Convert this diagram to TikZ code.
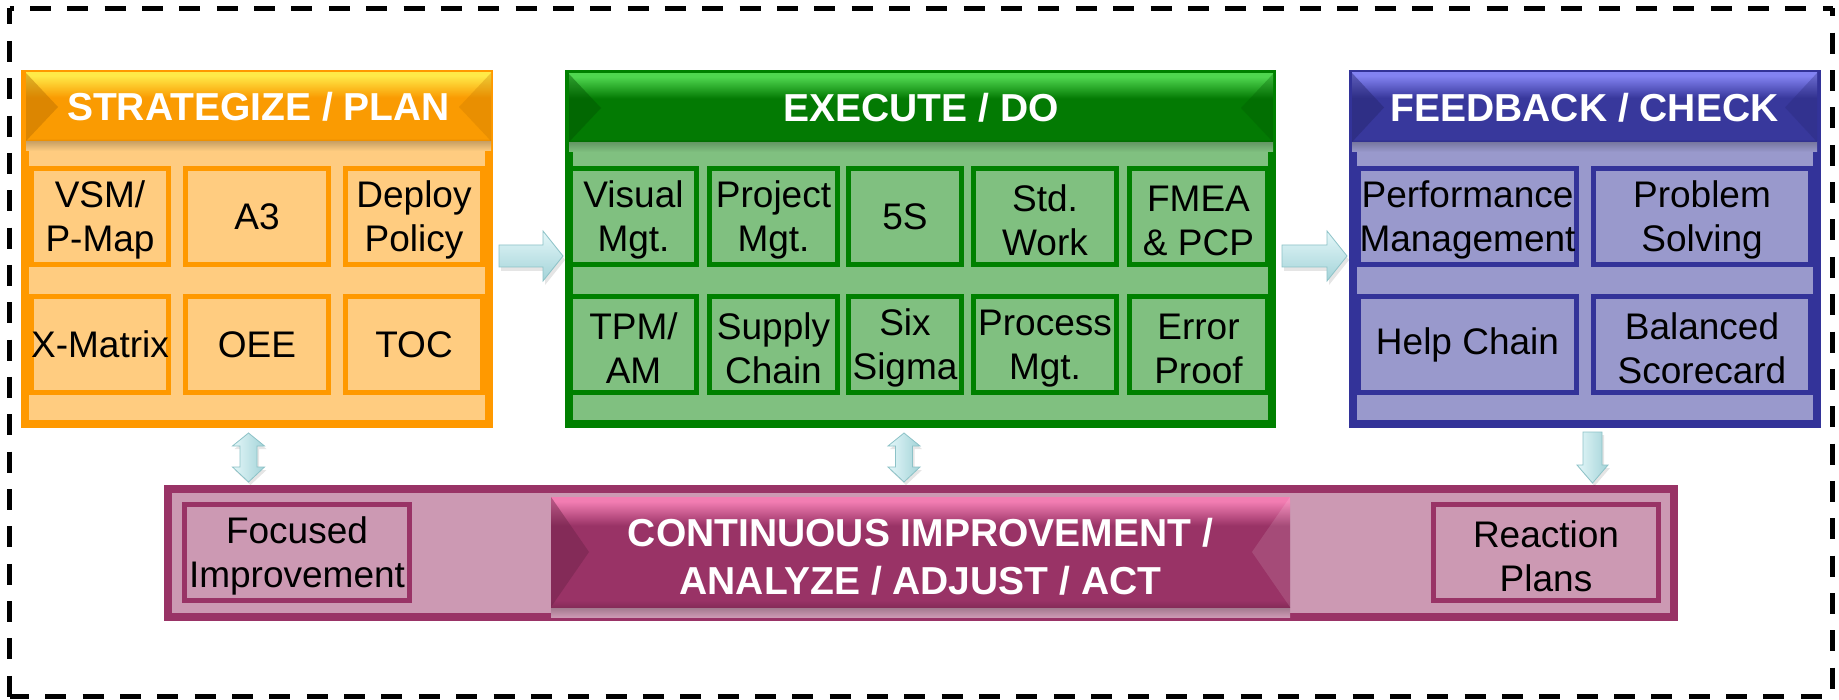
\documentclass[tikz,border=0pt]{standalone}
\usepackage{fontspec}
\setmainfont{Liberation Sans}
\usetikzlibrary{calc}
\definecolor{Ofr}{HTML}{FF9900}
\definecolor{Olt}{HTML}{FFCC80}
\definecolor{Otop}{HTML}{FFEA48}
\definecolor{Obase}{HTML}{FA9B02}
\definecolor{Odk}{HTML}{E68A00}
\definecolor{Gfr}{HTML}{008000}
\definecolor{Glt}{HTML}{80C080}
\definecolor{Gtop}{HTML}{4FD64F}
\definecolor{Gbase}{HTML}{037A03}
\definecolor{Gdk}{HTML}{016801}
\definecolor{Bfr}{HTML}{333399}
\definecolor{Blt}{HTML}{9999CC}
\definecolor{Btop}{HTML}{8383F2}
\definecolor{Bbase}{HTML}{38389C}
\definecolor{Bdk}{HTML}{2E2E88}
\definecolor{Mfr}{HTML}{993366}
\definecolor{Mlt}{HTML}{CC99B3}
\definecolor{Mtop}{HTML}{F27DB2}
\definecolor{Mbase}{HTML}{993366}
\definecolor{Mdk}{HTML}{862C59}
\definecolor{Alt}{HTML}{E4F7F9}
\definecolor{Adk}{HTML}{A3D3D8}
\definecolor{Aln}{HTML}{8CC2C7}
\pgfdeclareverticalshading{Ohdr}{100bp}{color(0bp)=(Odk); color(25bp)=(Odk); color(27bp)=(Obase); color(57bp)=(Obase); color(73bp)=(Otop); color(100bp)=(Otop)}
\pgfdeclareverticalshading{Ghdr}{100bp}{color(0bp)=(Gdk); color(25bp)=(Gdk); color(27bp)=(Gbase); color(57bp)=(Gbase); color(73bp)=(Gtop); color(100bp)=(Gtop)}
\pgfdeclareverticalshading{Bhdr}{100bp}{color(0bp)=(Bdk); color(25bp)=(Bdk); color(27bp)=(Bbase); color(57bp)=(Bbase); color(73bp)=(Btop); color(100bp)=(Btop)}
\pgfdeclareverticalshading{Mhdr}{100bp}{color(0bp)=(Mdk); color(25bp)=(Mdk); color(28bp)=(Mbase); color(62bp)=(Mbase); color(73bp)=(Mtop); color(100bp)=(Mtop)}
% header band: #1 x0, #2 y0, #3 x1, #4 y1, #5 colour prefix, #6 facet depth, #7 right facet colour
\newcommand\hdrband[7]{%
  \shade[top color=#5lt!78!black, bottom color=#5lt] (#1,#4) rectangle (#3,{#4+10});
  \shade[shading=#5hdr] (#1,#2) rectangle (#3,#4);
  \fill[#5dk!80!black, opacity=.45] (#1,#2) -- ({#1+#6},{(#2+#4)/2}) -- (#1,#4) -- cycle;
  \fill[#7] (#3,#2) -- ({#3-#6},{(#2+#4)/2}) -- (#3,#4) -- cycle;
}
\newcommand\ts{\rule{0pt}{34pt}}
% horizontal block arrow from node #2 to node #3, offset #4
\newcommand\harrow[4]{%
  \path[#1] ($(#2.east)+(6,-4)+#4$) -- ($(#3.west)+(-22,-4)+#4$) -- ($(#3.west)+(-22,-18)+#4$)
    -- ($(#3.west)+(-2,7)+#4$) -- ($(#3.west)+(-22,32)+#4$) -- ($(#3.west)+(-22,18)+#4$)
    -- ($(#2.east)+(6,18)+#4$) -- cycle;
}
% vertical double arrow at x of coordinate #2 between node #3 (above) and #4 (below)
\newcommand\vdarrow[5]{%
  \path[#1] ($(#3.south -| #2)+(0,5)+#5$) -- ($(#3.south -| #2)+(16,18)+#5$) -- ($(#3.south -| #2)+(8.5,18)+#5$)
    -- ($(#4.north -| #2)+(8.5,-18)+#5$) -- ($(#4.north -| #2)+(16,-18)+#5$) -- ($(#4.north -| #2)+(0,-3)+#5$)
    -- ($(#4.north -| #2)+(-16,-18)+#5$) -- ($(#4.north -| #2)+(-8.5,-18)+#5$)
    -- ($(#3.south -| #2)+(-8.5,18)+#5$) -- ($(#3.south -| #2)+(-16,18)+#5$) -- cycle;
}
% vertical down arrow
\newcommand\vdownarrow[5]{%
  \path[#1] ($(#3.south -| #2)+(-9.5,4)+#5$) -- ($(#3.south -| #2)+(9.5,4)+#5$)
    -- ($(#4.north -| #2)+(9.5,-20)+#5$) -- ($(#4.north -| #2)+(15.5,-20)+#5$) -- ($(#4.north -| #2)+(0,-2)+#5$)
    -- ($(#4.north -| #2)+(-15.5,-20)+#5$) -- ($(#4.north -| #2)+(-9.5,-20)+#5$) -- cycle;
}
\begin{document}
\begin{tikzpicture}[x=1pt,y=-1pt,
  panel/.style={draw=#1fr, fill=#1lt, line width=8pt, inner sep=0pt, minimum height=350},
  sub/.style={draw=#1fr, fill=#1lt, line width=5pt, inner sep=0pt, align=center,
    font=\fontsize{37}{44.5}\selectfont, text=black, minimum height=96},
  htxt/.style={text=white, font=\fontsize{39}{48}\selectfont\bfseries, inner sep=0pt, align=center},
  harr/.style={top color=Alt, bottom color=Adk, draw=Aln, line width=0.8pt},
  varr/.style={left color=Alt, right color=Adk, draw=Aln, line width=0.8pt},
  shad/.style={fill=black, opacity=0.10},
  border/.style={line width=5.5pt, dash pattern=on 21pt off 16.35pt}]
\useasboundingbox (0,0) rectangle (1839,700);
\fill[white] (0,0) rectangle (1839,700);
% outer dashed frame
\draw[border, dash phase=16.85pt] (9.5,8.5) -- (1832.5,8.5);
\draw[border, dash phase=5pt] (9.5,8.5) -- (9.5,696.5);
\draw[border, dash phase=13.1pt] (1832.5,8.5) -- (1832.5,696.5);
\draw[border, dash phase=1.55pt] (9.5,696.5) -- (1832.5,696.5);
% panels
\node[panel=O, minimum width=464] (plan) at (257,249) {};
\node[panel=G, minimum width=703] (do) at (920.5,249) {};
\node[panel=B, minimum width=464] (check) at (1585,249) {};
\node[panel=M, minimum width=1506, minimum height=128] (act) at (921,553) {};
% headers
\hdrband{26}{73}{491}{141}{O}{32}{Odk!85!black, opacity=.3}
\node[htxt] (planT) at (258.5,107) {STRATEGIZE / PLAN};
\hdrband{569}{74}{1273}{142}{G}{32}{Gdk!85!black, opacity=.3}
\node[htxt] (doT) at (921,108) {EXECUTE / DO};
\hdrband{1352}{73}{1817}{142}{B}{32}{Bdk!85!black, opacity=.3}
\node[htxt] (checkT) at (1584.5,108) {FEEDBACK / CHECK};
% plan items
\node[sub=O, minimum width=137] (vsm) at (100,216.5) {\ts VSM/\\P-Map};
\node[sub=O, minimum width=143] (a3) at (257,216.5) {A3};
\node[sub=O, minimum width=137] (dep) at (414,216.5) {\ts Deploy\\Policy};
\node[sub=O, minimum width=137] (xm) at (100,344.5) {X-Matrix};
\node[sub=O, minimum width=143] (oee) at (257,344.5) {OEE};
\node[sub=O, minimum width=137] (toc) at (414,344.5) {TOC};
% do items
\node[sub=G, minimum width=126] (vis) at (633.5,216.5) {\ts Visual\\Mgt.};
\node[sub=G, minimum width=128] (proj) at (773.5,216.5) {\ts Project\\Mgt.};
\node[sub=G, minimum width=113] (fives) at (905,216.5) {5S};
\node[sub=G, minimum width=143] (std) at (1045,216.5) {\ts Std.\\Work};
\node[sub=G, minimum width=138] (fmea) at (1198.5,216.5) {\ts FMEA\\\& PCP};
\node[sub=G, minimum width=126] (tpm) at (633.5,344.5) {\ts TPM/\\AM};
\node[sub=G, minimum width=128] (sup) at (773.5,344.5) {\ts Supply\\Chain};
\node[sub=G, minimum width=113] (six) at (905,344.5) {\ts Six\\Sigma};
\node[sub=G, minimum width=143] (proc) at (1045,344.5) {\ts Process\\Mgt.};
\node[sub=G, minimum width=138] (err) at (1198.5,344.5) {\ts Error\\Proof};
% check items
\node[sub=B, minimum width=218] (perf) at (1467.5,216.5) {\ts Performance\\Management};
\node[sub=B, minimum width=217] (prob) at (1702,216.5) {\ts Problem\\Solving};
\node[sub=B, minimum width=218] (help) at (1467.5,344.5) {Help Chain};
\node[sub=B, minimum width=217] (bal) at (1702,344.5) {\ts Balanced\\Scorecard};
% act bar
\hdrband{551}{497}{1290}{607}{M}{38}{white, opacity=.12}
\node[htxt] (actT) at (920.5,557) {CONTINUOUS IMPROVEMENT /\\ANALYZE / ADJUST / ACT};
\node[sub=M, minimum width=225] (foc) at (297,552.5) {\ts Focused\\Improvement};
\node[sub=M, minimum width=225] (reac) at (1546,552.5) {\ts Reaction\\Plans};
% arrows
\coordinate (xL) at (248.5,0);
\coordinate (xM) at (904,0);
\coordinate (xR) at (1592.5,0);
\harrow{shad}{plan}{do}{(2,4)}
\harrow{harr}{plan}{do}{(0,0)}
\harrow{shad}{do}{check}{(2,4)}
\harrow{harr}{do}{check}{(0,0)}
\vdarrow{shad}{xL}{plan}{act}{(2,3)}
\vdarrow{varr}{xL}{plan}{act}{(0,0)}
\vdarrow{shad}{xM}{do}{act}{(2,3)}
\vdarrow{varr}{xM}{do}{act}{(0,0)}
\vdownarrow{shad}{xR}{check}{act}{(2,3)}
\vdownarrow{varr}{xR}{check}{act}{(0,0)}
\end{tikzpicture}
\end{document}
